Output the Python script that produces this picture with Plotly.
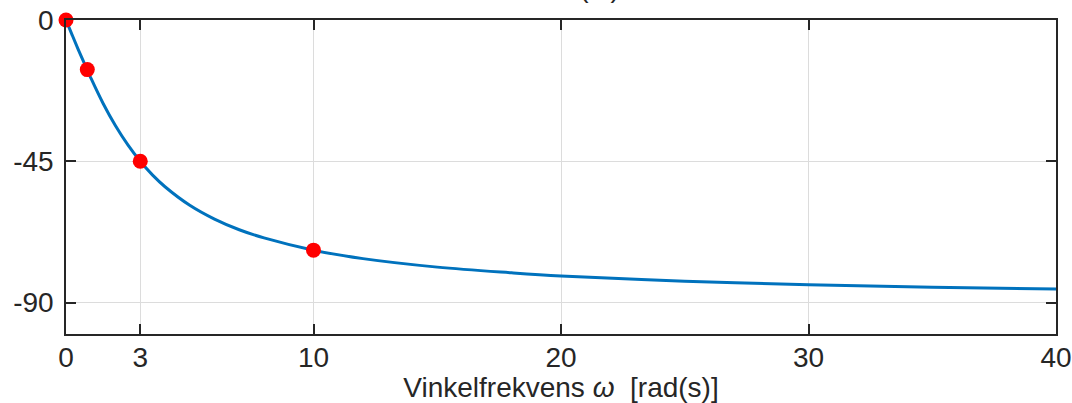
import plotly.graph_objects as go

# Phase curve
omega = [0, 0.25, 0.5, 0.75, 1, 1.5, 2, 2.5, 3, 3.5, 4, 5, 6, 7, 8, 10, 12, 15, 18, 20, 25, 30, 35, 40]
phase = [0, -4.8, -9.5, -14.0, -18.4, -26.6, -33.7, -39.8, -45.0, -49.4, -53.1, -59.0, -63.4,
         -66.8, -69.4, -73.3, -76.0, -78.7, -80.5, -81.5, -83.2, -84.3, -85.1, -85.7]

# Highlighted points
pt_omega = [0, 0.86, 3, 10]
pt_phase = [0, -15.8, -45.0, -73.3]

x_ticks = [0, 3, 10, 20, 30, 40]
y_ticks = [-90, -45, 0]

FONT = "Liberation Sans, Arial, Helvetica, sans-serif"

fig = go.Figure()
fig.add_trace(go.Scatter(x=omega, y=phase, mode="lines",
                         line=dict(color="#0072BD", width=3, shape="spline"),
                         showlegend=False, hoverinfo="skip"))
fig.add_trace(go.Scatter(x=pt_omega, y=pt_phase, mode="markers",
                         marker=dict(color="#FF0000", size=15),
                         showlegend=False, cliponaxis=False))

axis_common = dict(showline=True, linecolor="#262626", linewidth=1.5, mirror="ticks",
                   ticks="inside", ticklen=10, tickwidth=1.5, tickcolor="#262626",
                   showgrid=True, gridcolor="#DCDCDC", gridwidth=1, zeroline=False,
                   automargin=False,
                   tickfont=dict(family=FONT, size=28, color="#262626"))

fig.update_xaxes(range=[0, 40], tickvals=x_ticks, ticktext=[str(v) for v in x_ticks],
                 ticklabelstandoff=-2,
                 title=dict(text="Vinkelfrekvens <i>ω</i>&nbsp;&nbsp;[rad(s)]",
                            font=dict(family=FONT, size=28, color="#262626"), standoff=1),
                 **axis_common)
fig.update_yaxes(range=[-100, 0], tickvals=y_ticks, ticktext=[str(v) for v in y_ticks],
                 ticklabelstandoff=5, **axis_common)

fig.add_annotation(text="Fase ∠H(ω)", xref="paper", yref="paper", x=0.562, y=1.105,
                   xanchor="right", yanchor="middle", showarrow=False,
                   font=dict(family=FONT, size=28, color="#262626"))

fig.update_layout(width=1072, height=403, plot_bgcolor="white", paper_bgcolor="white",
                  margin=dict(l=66, r=16, t=20, b=69))

fig.write_html("out.html", config={"displayModeBar": False},
               post_script="document.body.style.margin='0px';document.body.style.overflow='hidden';")
